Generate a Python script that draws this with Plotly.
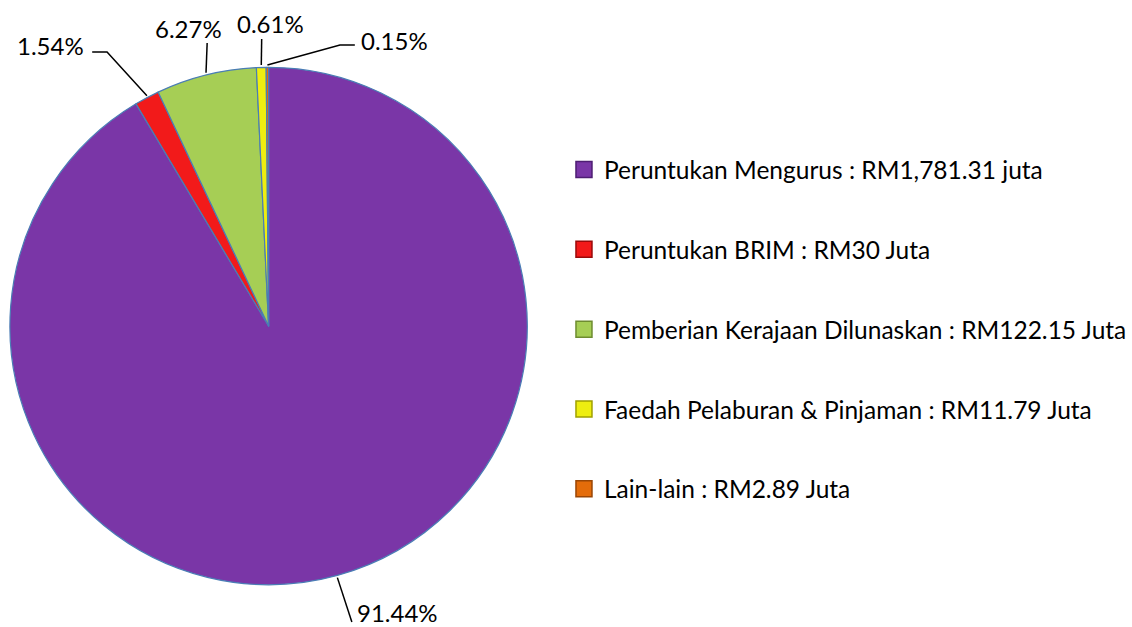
import math
import plotly.graph_objects as go

# Revenue breakdown (RM juta)
labels = [
    "Peruntukan Mengurus : RM1,781.31 juta",
    "Peruntukan BRIM : RM30 Juta",
    "Pemberian Kerajaan Dilunaskan : RM122.15 Juta",
    "Faedah Pelaburan & Pinjaman : RM11.79 Juta",
    "Lain-lain : RM2.89 Juta",
]
values = [1781.31, 30, 122.15, 11.79, 2.89]
colors = ["#7A36A7", "#F21A1A", "#A6CE55", "#EEEE10", "#E46C0A"]
edge_colors = ["#4E1E73", "#9A0A0A", "#6E8C30", "#A0A000", "#9A4605"]

W, H = 1132, 627
FONT = "Lato, 'Open Sans', sans-serif"

# pie placement in paper coordinates
dom_x = [10 / W, 532 / W]
dom_y = [1 - 587 / H, 1 - 65 / H]

fig = go.Figure()
fig.add_trace(go.Pie(
    labels=labels,
    values=values,
    sort=False,
    direction="clockwise",
    rotation=0,
    textinfo="none",
    hoverinfo="label+percent",
    marker=dict(colors=colors, line=dict(color="#4A7DB5", width=1.2)),
    domain=dict(x=dom_x, y=dom_y),
    showlegend=False,
))

# legend entries, one group per category so they can be spaced apart
for lab, col, ec in zip(labels, colors, edge_colors):
    fig.add_trace(go.Scatter(
        x=[None], y=[None], mode="markers", name=lab, legendgroup=lab,
        marker=dict(symbol="square", size=16, color=col, line=dict(color=ec, width=1.5)),
        hoverinfo="skip",
    ))

# leader lines and percentage labels, anchored to each slice's mid-angle
cx_px = (dom_x[0] + dom_x[1]) / 2 * W
cy_px = (1 - (dom_y[0] + dom_y[1]) / 2) * H
radius = min((dom_x[1] - dom_x[0]) * W, (dom_y[1] - dom_y[0]) * H) / 2
total = sum(values)

# per-slice label routing: intermediate points (pixels), text anchor point, alignment
routes = [
    dict(path=[(355, 622)], text=(358, 612), anchor="left"),
    dict(path=[(108, 52), (93, 52)], text=(87, 45), anchor="right"),
    dict(path=[(209, 43)], text=(190, 28), anchor="center"),
    dict(path=[(264, 39)], text=(273, 24), anchor="center"),
    dict(path=[(343, 45), (358, 45)], text=(362, 41), anchor="left"),
]


def to_paper(px, py):
    return px / W, 1 - py / H


cum = 0.0
shapes, annotations = [], []
for v, route in zip(values, routes):
    frac = v / total
    mid = (cum + frac / 2) * 2 * math.pi
    cum += frac
    ex = cx_px + radius * math.sin(mid)
    ey = cy_px - radius * math.cos(mid)
    pts = [(ex, ey)] + route["path"]
    d = "M " + " L ".join(f"{to_paper(*p)[0]:.5f},{to_paper(*p)[1]:.5f}" for p in pts)
    shapes.append(dict(type="path", xref="paper", yref="paper", path=d,
                       line=dict(color="black", width=1.5)))
    tx, ty = to_paper(*route["text"])
    annotations.append(dict(
        x=tx, y=ty, xref="paper", yref="paper", showarrow=False,
        text=f"{frac * 100:.2f}%", xanchor=route["anchor"], yanchor="middle",
        font=dict(family=FONT, size=24, color="black"),
    ))

fig.update_layout(
    width=W, height=H,
    margin=dict(l=0, r=0, t=0, b=0),
    paper_bgcolor="white", plot_bgcolor="white",
    xaxis=dict(visible=False), yaxis=dict(visible=False),
    shapes=shapes, annotations=annotations,
    legend=dict(
        x=569 / W, y=1 - 147 / H, xanchor="left", yanchor="top",
        font=dict(family=FONT, size=24.5, color="black"),
        tracegroupgap=45, itemclick=False, itemdoubleclick=False,
        bgcolor="rgba(0,0,0,0)",
    ),
)

fig.write_html("out.html")
